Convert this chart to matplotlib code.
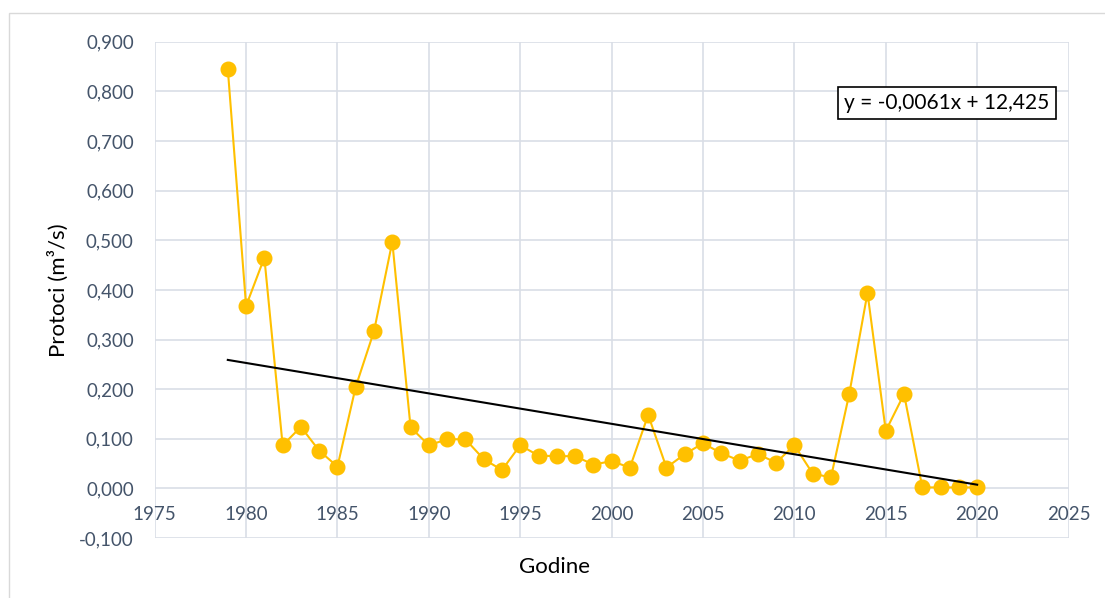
import numpy as np
import matplotlib
matplotlib.use('Agg')
import matplotlib.pyplot as plt
from matplotlib.patches import Rectangle

# Data
years = list(range(1979, 2021))
flows = [0.845, 0.368, 0.465, 0.087, 0.124, 0.076, 0.044, 0.205, 0.317, 0.497,
         0.123, 0.087, 0.099, 0.099, 0.059, 0.037, 0.087, 0.066, 0.065, 0.065,
         0.048, 0.055, 0.042, 0.148, 0.042, 0.069, 0.091, 0.071, 0.056, 0.069,
         0.052, 0.087, 0.030, 0.022, 0.190, 0.394, 0.116, 0.190, 0.002, 0.002,
         0.002, 0.002]
trend_label = 'y = -0,0061x + 12,425'

x_ticks = list(range(1975, 2026, 5))
y_ticks = [-0.1, 0.0, 0.1, 0.2, 0.3, 0.4, 0.5, 0.6, 0.7, 0.8, 0.9]

TXT = '#44546A'
GRID = '#D9DEE6'

plt.rcParams['font.family'] = ['Lato', 'DejaVu Sans']

fig = plt.figure(figsize=(11.05, 5.98), dpi=100)
ax = fig.add_axes([0.140, 0.1003, 0.827, 0.8297])

# outer chart-area border
fig.patches.append(Rectangle((9 / 1105, -0.01), 1.02, 1 - 13 / 598 + 0.01,
                             transform=fig.transFigure, fill=False,
                             edgecolor='#D9D9D9', linewidth=1))

ax.plot(years, flows, color='#FFC000', linewidth=1.5, marker='o',
        markersize=10.5, zorder=3)

# linear trend
coef = np.polyfit(years, flows, 1)
tx = np.array([years[0], years[-1]])
ax.plot(tx, np.polyval(coef, tx), color='black', linewidth=1.5, zorder=4)

ax.text(0.867, 0.877, trend_label, transform=ax.transAxes, ha='center',
        va='center', fontsize=15, color='black',
        bbox=dict(boxstyle='square,pad=0.3', facecolor='white',
                  edgecolor='black', linewidth=1.2), zorder=5)

ax.set_xlim(1975, 2025)
ax.set_ylim(-0.1, 0.9)
ax.set_xticks(x_ticks)
ax.set_yticks(y_ticks)
ax.set_yticklabels([f'{v:.3f}'.replace('.', ',') for v in y_ticks])
ax.grid(True, color=GRID, linewidth=1.2)
ax.set_axisbelow(True)
for s in ax.spines.values():
    s.set_visible(False)

ax.spines['bottom'].set_position(('data', 0))
ax.tick_params(axis='both', length=0, labelsize=13.5, labelcolor=TXT)
ax.tick_params(axis='x', pad=13)
ax.tick_params(axis='y', pad=15)

ax.set_ylabel('Protoci (m³/s)', fontsize=16, color='black')
ax.yaxis.set_label_coords(-0.094, 0.5)
ax.set_xlabel('Godine', fontsize=16, color='black')
ax.xaxis.set_label_coords(0.437, -0.038)

fig.savefig('out.png', dpi=100)
